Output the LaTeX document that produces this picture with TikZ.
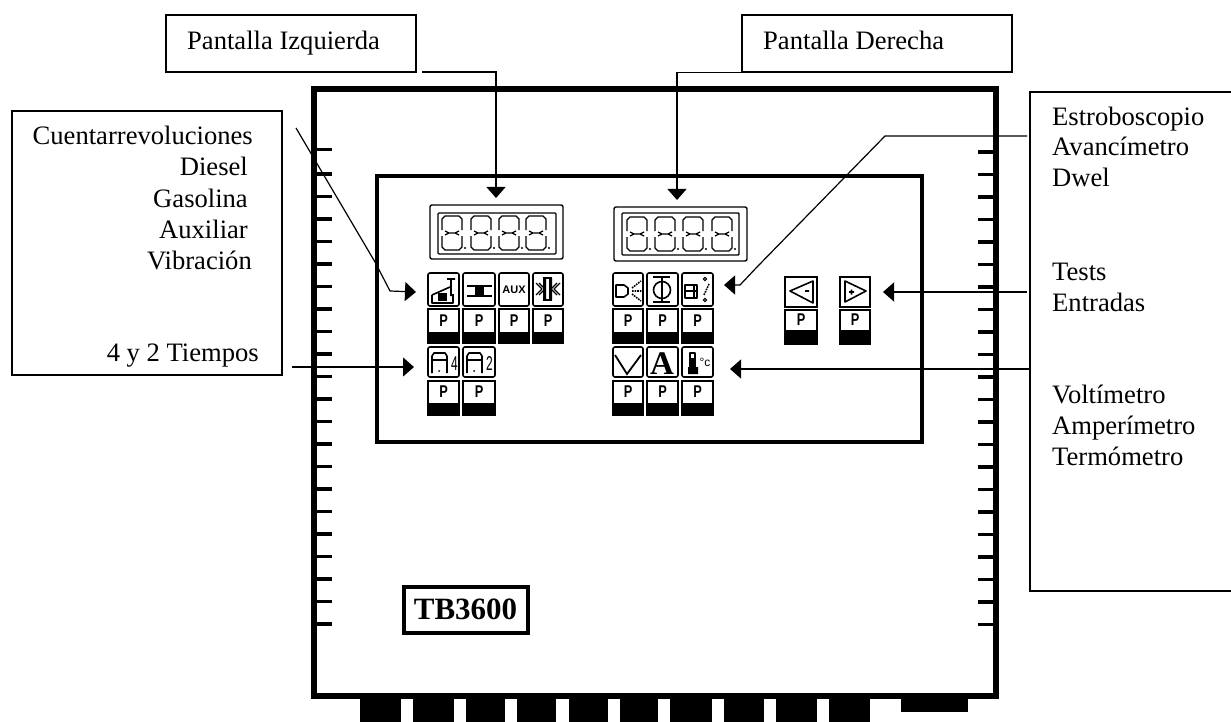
\documentclass[tikz,border=0pt]{standalone}
\usepackage{fontspec}
\setmainfont{Liberation Serif}
\setsansfont{Liberation Sans}
\usetikzlibrary{arrows.meta}

\tikzset{
	labelbox/.style={draw,line width=1.4pt,inner sep=0pt},
	labeltext/.style={inner sep=0pt,align=left,font=\fontsize{26.6}{31}\selectfont},
	pointer/.style={line width=1.2pt,-{Triangle[width=19pt,length=11pt]}},
	ticks/.style={line width=3.4pt},
	iconline/.style={line width=1.6pt,line join=round},
	iconframe/.style={line width=1.6pt,rounded corners=2pt},
	keyfont/.style={inner sep=0pt,font=\sffamily\bfseries\fontsize{17}{17}\selectfont},
	iconfont/.style={inner sep=0pt,font=\sffamily\fontsize{20}{20}\selectfont}
}

% one digit of a display
\newcommand{\segdigit}[2]{
	\begin{scope}[shift={(#1,#2)},line width=1.3pt]
		\draw (0,14) -- (0,3) -- (3,0) -- (17,0) -- (20,3) -- (20,14);
		\draw (0,20) -- (0,31) -- (3,34) -- (17,34) -- (20,31) -- (20,20);
		\draw (3,15) -- (7,17) -- (3,19) (17,15) -- (13,17) -- (17,19) (7,17) -- (13,17);
		\fill (23,32) circle (1.2);
	\end{scope}
}
% key under an icon: x1, x2, top, start of black, bottom
\newcommand{\pkey}[5]{
	\draw[line width=1.6pt] (#1,#3) rectangle (#2,#5);
	\fill (#1,#4) rectangle (#2,#5);
	\node[keyfont] at ({(#1+#2)/2},{(#3+#4)/2}) {\scalebox{.75}[1]{P}};
}

\begin{document}
\begin{tikzpicture}[x=1pt,y=-1pt]
	\useasboundingbox (0,0) rectangle (1231,722);
	\clip (0,0) rectangle (1231,722);

	% CASE
	\draw[line width=5.5pt] (314,89) rectangle (996,696);
	\foreach \y in {174,196.5,...,625}
		\draw[ticks] (314,\y) --++(18,0);
	\draw[ticks] (314,149.5) --++(18,0);
	\foreach \y in {152,174.5,...,625}
		\draw[ticks] (996,\y) --++(-18,0);
	\foreach \a/\b in {360/401,413/454,466/505,517/556,569/608,620/658,670/712,724/764,776/817,829/870}
		\fill (\a,696) rectangle (\b,722);
	\fill (901,696) rectangle (968,712);
	\node[draw,line width=4pt,minimum width=124pt,minimum height=46pt,inner sep=0pt,font=\bfseries\fontsize{31}{31}\selectfont] (model) at (465.5,609.5) {TB3600};

	% PANEL
	\draw[line width=3.4pt] (377,176) rectangle (922,442);

	% LEFT DISPLAY
	\draw[line width=1.4pt,rounded corners=2pt] (430,205) rectangle (563,259);
	\draw[line width=1.4pt,rounded corners=1pt] (438,213) rectangle (556,254);
	\foreach \x in {442,471,499,526} {
		\segdigit{\x}{216}
	}

	% RIGHT DISPLAY
	\draw[line width=1.4pt,rounded corners=2pt] (614,207) rectangle (747,261);
	\draw[line width=1.4pt,rounded corners=1pt] (622,213) rectangle (739,255);
	\foreach \x in {627,655,683,712} {
		\segdigit{\x}{217}
	}

	% LEFT ICONS
	\foreach \a/\b in {428/459,463/495,499/529,533/563} {
		\draw[iconframe] (\a,273) rectangle (\b,306);
		\pkey{\a}{\b}{309}{332}{343}
	}
	\foreach \a/\b in {428/459,463/495} {
		\draw[iconframe] (\a,347) rectangle (\b,377);
		\pkey{\a}{\b}{381}{403}{415}
	}
	\draw[iconline] (447,279) -- (455,279) (451,279) -- (451,296) (432,295) -- (450,287) (432,295) -- (432,303) -- (453,303) -- (453,294);
	\fill (438,293) rectangle (447,301);
	\draw[line width=2.2pt] (467,286) -- (492,286) (467,296) -- (492,296);
	\fill (475,286) rectangle (484,296);
	\node[inner sep=0pt,font=\sffamily\bfseries\fontsize{11}{11}\selectfont] (aux) at (514,290) {AUX};
	\fill (543,278) rectangle (546,300) (549,278) rectangle (552,300);
	\draw[iconline,line width=1.2pt] (543,278) -- (552,278) (543,300) -- (552,300);
	\draw[iconline,line width=1.2pt] (536,283) -- (542,289) -- (536,295) (539,283) -- (545,289) -- (539,295);
	\draw[iconline,line width=1.2pt] (560,283) -- (554,289) -- (560,295) (557,283) -- (551,289) -- (557,295);
	\foreach \a/\n in {428/4,463/2} {
		\draw[iconline] (\a+4,373) -- (\a+4,356) -- (\a+6,353) -- (\a+17,353) -- (\a+19,356) -- (\a+19,373) (\a+4,360) -- (\a+19,360);
		\fill (\a+11,371) circle (1);
		\node[iconfont] at (\a+26.5,364) {\scalebox{.6}[1]{\n}};
	}

	% RIGHT ICONS
	\foreach \a/\b in {613/643,647/678,682/713} {
		\draw[iconframe] (\a,273) rectangle (\b,306);
		\pkey{\a}{\b}{309}{332}{343}
		\draw[iconframe] (\a,347) rectangle (\b,377);
		\pkey{\a}{\b}{381}{403}{415}
	}
	\draw[iconline] (616,285) -- (624,285) -- (628,288) -- (628,294) -- (624,297) -- (616,297) -- cycle;
	\draw[iconline,densely dotted] (632,288) -- (641,281) (632,291) -- (642,291) (632,294) -- (641,301);
	\draw[iconline] (653,277) -- (670,277) (653,302) -- (670,302) (662,277) -- (662,302);
	\draw[iconline] (662,290) circle (8.5);
	\draw[iconline] (685,285) rectangle (697,298) (685,291) -- (697,291) (694,285) -- (694,298);
	\draw[iconline,densely dotted] (709,284) -- (704,295);
	\draw[line width=1pt] (705,279) circle (1.6) (705,300) circle (1.6);
	\draw[line width=1.8pt] (615,355) -- (627,374) -- (641,355);
	\node[inner sep=0pt,font=\bfseries\fontsize{33}{33}\selectfont] (amp) at (662,364) {A};
	\draw[iconline] (690,368) -- (690,353) -- (695,353) -- (695,368);
	\fill (691,358) rectangle (694,368) (688,367) rectangle (698,374);
	\node[inner sep=0pt,font=\sffamily\fontsize{12}{12}\selectfont] (deg) at (705,362) {°c};

	% TEST BUTTONS
	\foreach \a/\b in {785/817,840/870} {
		\draw[line width=1.6pt] (\a,277) rectangle (\b,307);
		\pkey{\a}{\b}{310}{330}{344}
	}
	\draw[iconline] (790,291) -- (813,281) -- (813,303) -- cycle (805,291) -- (809,291);
	\draw[iconline] (845,281) -- (866,291) -- (845,302) -- cycle (849,292) -- (854,292) (851.5,289.5) -- (851.5,294.5);

	% LABELS
	\node[labelbox,minimum width=250pt,minimum height=57pt] (izq) at (291,43.5) {};
	\node[labelbox,minimum width=270pt,minimum height=57pt] (der) at (877,43.5) {};
	\node[labelbox,minimum width=270pt,minimum height=264pt] (left) at (147,243) {};
	\node[labelbox,minimum width=220pt,minimum height=499pt] (right) at (1140,341.5) {};
	\node[labeltext,anchor=base west] (izqtext) at (187,50) {Pantalla Izquierda};
	\node[labeltext,anchor=base west] (dertext) at (763,50) {Pantalla Derecha};
	\node[labeltext,anchor=base east,align=right] (cuenta) at (253,269) {Cuentarrevoluciones\\Diesel\kern5pt\\Gasolina\kern5pt\\Auxiliar\kern5pt\\Vibración\kern1pt};
	\node[labeltext,anchor=base east] (tiempos) at (259,361) {4 y 2 Tiempos};
	\node[labeltext,anchor=base west] (estro) at (1052,187) {Estroboscopio\\Avancímetro\\Dwel};
	\node[labeltext,anchor=base west] (tests) at (1052,311) {Tests\\Entradas};
	\node[labeltext,anchor=base west] (volt) at (1052,465) {Voltímetro\\Amperímetro\\Termómetro};

	% ARROWS
	\coordinate (cuentastart) at (296,128);
	\coordinate (cuentatip) at (416,292);
	\coordinate (tiempostart) at (292,367);
	\coordinate (tiempotip) at (414,367);
	\coordinate (izqstart) at (422,72);
	\coordinate (izqtip) at (496,198);
	\coordinate (dertip) at (677,200);
	\coordinate (estrostart) at (1027,136);
	\coordinate (estrotip) at (724,285);
	\coordinate (teststart) at (1027,292);
	\coordinate (teststip) at (883,292);
	\coordinate (voltip) at (730,369);
	\draw[pointer] (izqstart) -| (izqtip);
	\draw[pointer] (der.south west) -| (dertip);
	\draw[pointer] (cuentastart) -- (375,262) -- (390,291) -- (cuentatip);
	\draw[pointer] (tiempostart) -- (tiempotip);
	\draw[pointer] (estrostart) -- (885,136) -- (757,267) -- (740,285) -- (estrotip);
	\draw[pointer] (teststart) -- (teststip);
	\draw[pointer] (right.west |- voltip) -- (voltip);
\end{tikzpicture}
\end{document}
